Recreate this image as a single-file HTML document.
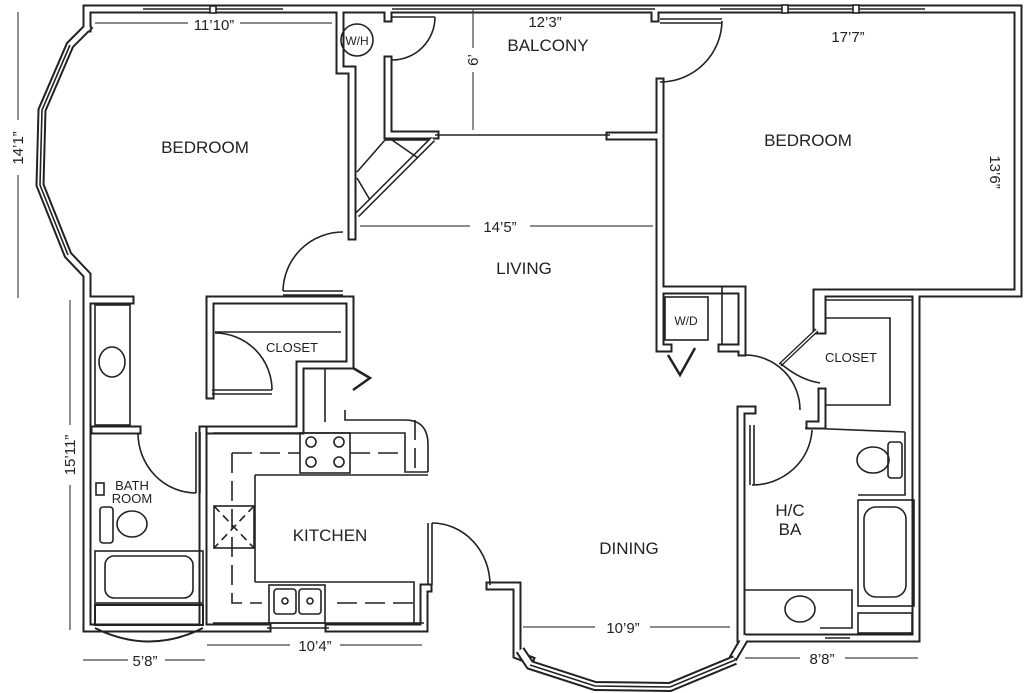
<!DOCTYPE html>
<html><head><meta charset="utf-8"><style>
html,body{margin:0;padding:0;background:#fff;}
svg{display:block;}
text{font-family:"Liberation Sans",sans-serif;fill:#222;}
.l{font-size:17px;}
.s{font-size:13px;}
.d{font-size:15px;}
</style></head><body>
<svg width="1024" height="693" viewBox="0 0 1024 693" xmlns="http://www.w3.org/2000/svg">
<defs>
<g id="W" fill="none" stroke-linejoin="miter" stroke-linecap="square">
<!-- top left bedroom -->
<path d="M87,28 L87,9 L392,9"/>
<path d="M87,28 L70,45 L42,110 L40,185 L68,255 L87,275 L87,628 L203,628"/>
<path d="M340,9 L340,70 L352,70 L352,236"/>
<path d="M388,9 L388,18"/>
<path d="M388,60 L388,135 L435,135"/>
<path d="M392,9 L655,9 L655,18"/>
<path d="M660,82 L660,348"/>
<path d="M610,136 L660,136"/>
<path d="M655,9 L1018,9 L1018,293 L817,293 L817,330"/>
<path d="M916,297 L916,638 L745,638"/>
<path d="M745,638 L735,655"/>
<path d="M741,410 L741,638"/>
<path d="M741,410 L752,410"/>
<path d="M87,300 L130,300"/>
<path d="M95,430 L137,430"/>
<path d="M210,300 L350,300 L350,365 L300,365 L300,428"/>
<path d="M210,300 L210,395"/>
<path d="M203,430 L203,628 L267,628"/>
<path d="M210,430 L300,430"/>
<path d="M329,628 L424,628 L424,588 L428,588"/>
<path d="M490,586 L517,586 L517,655 L530,660"/>
<path d="M660,290 L742,290 L742,352"/>
<path d="M660,348 L668,348"/>
<path d="M722,348 L742,348"/>
<path d="M822,330 L822,298"/>
<path d="M822,392 L822,425 L810,425"/>
</g>
</defs>
<g stroke="#222" stroke-width="9"><use href="#W"/></g>
<g stroke="#fff" stroke-width="5"><use href="#W"/></g>

<g fill="none" stroke="#222" stroke-width="1.6">
<!-- windows center lines -->
<line x1="143" y1="9" x2="283" y2="9"/><rect x="210" y="6" width="6" height="7" fill="#fff"/>
<line x1="392" y1="9" x2="655" y2="9"/>
<line x1="720" y1="9" x2="925" y2="9"/>
<rect x="782" y="5" width="6" height="8" fill="#fff"/><rect x="853" y="5" width="6" height="8" fill="#fff"/>
<polyline points="70,45 42,110 40,185 68,255"/>
<line x1="435" y1="135" x2="610" y2="135"/>
<line x1="267" y1="628" x2="329" y2="628"/>
<line x1="825" y1="638" x2="850" y2="638"/>
<!-- dining bay -->
<path d="M520,650 L530,665 L595,686 L670,687 L735,660" stroke-width="10" stroke="#222"/>
<path d="M520,650 L530,665 L595,686 L670,687 L735,660" stroke-width="6" stroke="#fff"/>
<path d="M530,665 L595,686 L670,687 L735,660"/>
<!-- bath bottom curved -->
<rect x="95" y="605" width="108" height="20" stroke-width="2"/>
<path d="M95,628 Q149,655 203,628" stroke-width="2"/>
<!-- W/H -->
<circle cx="357" cy="40" r="16"/>
<line x1="392" y1="17" x2="435" y2="17"/>
<path d="M435,17 A43,43 0 0 1 392,60"/>
<!-- bedroom right door -->
<line x1="660" y1="19" x2="722" y2="19"/><line x1="660" y1="23" x2="722" y2="23"/>
<path d="M722,21 A62,62 0 0 1 660,82"/>
<!-- chase diagonal -->
<line x1="357" y1="215" x2="433" y2="139" stroke-width="6" stroke="#222"/>
<line x1="357" y1="215" x2="433" y2="139" stroke-width="3" stroke="#fff"/>
<line x1="357" y1="172" x2="385" y2="140"/>
<line x1="385" y1="140" x2="428" y2="140"/>
<line x1="392" y1="140" x2="418" y2="158"/>
<line x1="357" y1="178" x2="370" y2="200"/>
<!-- living door -->
<line x1="283" y1="291" x2="343" y2="291"/><line x1="283" y1="295" x2="343" y2="295"/>
<path d="M343,232 A60,60 0 0 0 283,291"/>
<!-- closet -->
<line x1="215" y1="332" x2="341" y2="332"/>
<path d="M215,333 A57,57 0 0 1 272,390"/>
<line x1="212" y1="390" x2="272" y2="390"/><line x1="212" y1="394" x2="272" y2="394"/>
<line x1="325" y1="368" x2="325" y2="422"/>
<polyline points="353,368 370,378 353,390" stroke-width="2.5"/>
<!-- left bath -->
<rect x="95" y="305" width="35" height="120"/>
<ellipse cx="112" cy="362" rx="13" ry="15"/>
<path d="M138,433 A58,60 0 0 0 196,493"/>
<line x1="196" y1="432" x2="196" y2="493"/><line x1="200" y1="432" x2="200" y2="493"/>
<rect x="96" y="483" width="8" height="12"/>
<rect x="100" y="507" width="13" height="36" rx="3"/>
<ellipse cx="132" cy="524" rx="15" ry="13"/>
<rect x="95" y="551" width="108" height="52"/>
<rect x="105" y="556" width="88" height="42" rx="9"/>
<!-- kitchen -->
<polyline points="213,433 405,433 405,472 428,472"/>
<path d="M345,410 L345,420 L405,420 Q428,420 428,445 L428,472" />
<polyline points="255,475 428,475"/>
<line x1="255" y1="475" x2="255" y2="582"/>
<polyline points="255,582 414,582 414,623"/>
<polyline points="213,623 424,623"/>
<rect x="300" y="433" width="50" height="40"/>
<circle cx="311" cy="442" r="5"/><circle cx="339" cy="442" r="5"/>
<circle cx="311" cy="462" r="5"/><circle cx="339" cy="462" r="5"/>
<rect x="269" y="585" width="56" height="38"/>
<rect x="274" y="589" width="22" height="25" rx="3"/><rect x="299" y="589" width="22" height="25" rx="3"/>
<circle cx="285" cy="601" r="3"/><circle cx="310" cy="601" r="3"/>
<path d="M232,453 L300,453 M350,453 L405,453 M415,420 L415,472 M232,453 L232,603 L262,603 M337,603 L414,603" stroke-dasharray="20,8"/>
<rect x="214" y="506" width="40" height="42"/>
<path d="M214,506 L254,548 M254,506 L214,548" stroke-dasharray="8,5"/>
<!-- kitchen door -->
<line x1="428" y1="523" x2="428" y2="585"/><line x1="432" y1="523" x2="432" y2="585"/>
<path d="M432,523 A58,62 0 0 1 490,585"/>
<!-- W/D -->
<rect x="665" y="297" width="43" height="43"/>
<line x1="722" y1="287" x2="722" y2="345"/>
<polyline points="668,355 680,375 695,348" stroke-width="2.5"/>
<!-- right closet -->
<polyline points="826,300 912,300"/>
<polyline points="826,318 890,318 890,405 826,405"/>
<line x1="817" y1="330" x2="780" y2="365" stroke-width="4" stroke="#222"/>
<line x1="817" y1="330" x2="780" y2="365" stroke-width="1.5" stroke="#fff"/>
<path d="M780,363 Q800,380 820,383"/>
<path d="M745,355 A55,55 0 0 1 800,410"/>
<!-- H/C BA -->
<line x1="805" y1="428" x2="905" y2="432"/>
<polyline points="905,432 905,495 858,495"/>
<path d="M812,430 A60,58 0 0 1 752,485"/>
<line x1="750" y1="425" x2="750" y2="485"/><line x1="754" y1="425" x2="754" y2="485"/>
<ellipse cx="873" cy="460" rx="16" ry="13"/>
<rect x="888" y="442" width="14" height="36" rx="3"/>
<rect x="858" y="500" width="56" height="106"/>
<rect x="864" y="507" width="42" height="90" rx="12"/>
<polyline points="745,590 852,590 852,628 820,628"/>
<ellipse cx="800" cy="609" rx="15" ry="13"/>
<rect x="858" y="613" width="54" height="20"/>
</g>

<!-- dimension lines -->
<g stroke="#444" stroke-width="1.2">
<line x1="18" y1="12" x2="18" y2="120"/><line x1="18" y1="175" x2="18" y2="298"/>
<line x1="70" y1="300" x2="70" y2="425"/><line x1="70" y1="485" x2="70" y2="630"/>
<line x1="95" y1="23" x2="188" y2="23"/><line x1="240" y1="23" x2="332" y2="23"/>
<line x1="473" y1="10" x2="473" y2="48"/><line x1="473" y1="72" x2="473" y2="130"/>
<line x1="360" y1="226" x2="470" y2="226"/><line x1="530" y1="226" x2="653" y2="226"/>
<line x1="83" y1="660" x2="128" y2="660"/><line x1="165" y1="660" x2="205" y2="660"/>
<line x1="207" y1="645" x2="290" y2="645"/><line x1="340" y1="645" x2="422" y2="645"/>
<line x1="523" y1="627" x2="595" y2="627"/><line x1="650" y1="627" x2="730" y2="627"/>
<line x1="745" y1="658" x2="800" y2="658"/><line x1="845" y1="658" x2="918" y2="658"/>
</g>

<g>
<text class="l" x="205" y="153" text-anchor="middle">BEDROOM</text>
<text class="l" x="548" y="51" text-anchor="middle">BALCONY</text>
<text class="l" x="808" y="146" text-anchor="middle">BEDROOM</text>
<text class="l" x="524" y="274" text-anchor="middle">LIVING</text>
<text class="l" x="330" y="541" text-anchor="middle">KITCHEN</text>
<text class="l" x="629" y="554" text-anchor="middle">DINING</text>
<text class="l" x="790" y="516" text-anchor="middle">H/C</text>
<text class="l" x="790" y="535" text-anchor="middle">BA</text>
<text class="s" x="292" y="352" text-anchor="middle">CLOSET</text>
<text class="s" x="851" y="362" text-anchor="middle">CLOSET</text>
<text class="s" x="132" y="490" text-anchor="middle">BATH</text>
<text class="s" x="132" y="503" text-anchor="middle">ROOM</text>
<text x="357" y="45" text-anchor="middle" font-size="12">W/H</text>
<text x="686" y="325" text-anchor="middle" font-size="12">W/D</text>
<text class="d" x="214" y="30" text-anchor="middle">11’10”</text>
<text class="d" x="545" y="27" text-anchor="middle">12’3”</text>
<text class="d" x="848" y="42" text-anchor="middle">17’7”</text>
<text class="d" x="500" y="232" text-anchor="middle">14’5”</text>
<text class="d" x="145" y="666" text-anchor="middle">5’8”</text>
<text class="d" x="315" y="651" text-anchor="middle">10’4”</text>
<text class="d" x="623" y="633" text-anchor="middle">10’9”</text>
<text class="d" x="822" y="664" text-anchor="middle">8’8”</text>
<text class="d" transform="translate(23,148) rotate(-90)" text-anchor="middle">14’1”</text>
<text class="d" transform="translate(75,455) rotate(-90)" text-anchor="middle">15’11”</text>
<text class="d" transform="translate(478,60) rotate(-90)" text-anchor="middle">6’</text>
<text class="d" transform="translate(990,172) rotate(90)" text-anchor="middle">13’6”</text>
</g>
</svg>
</body></html>
